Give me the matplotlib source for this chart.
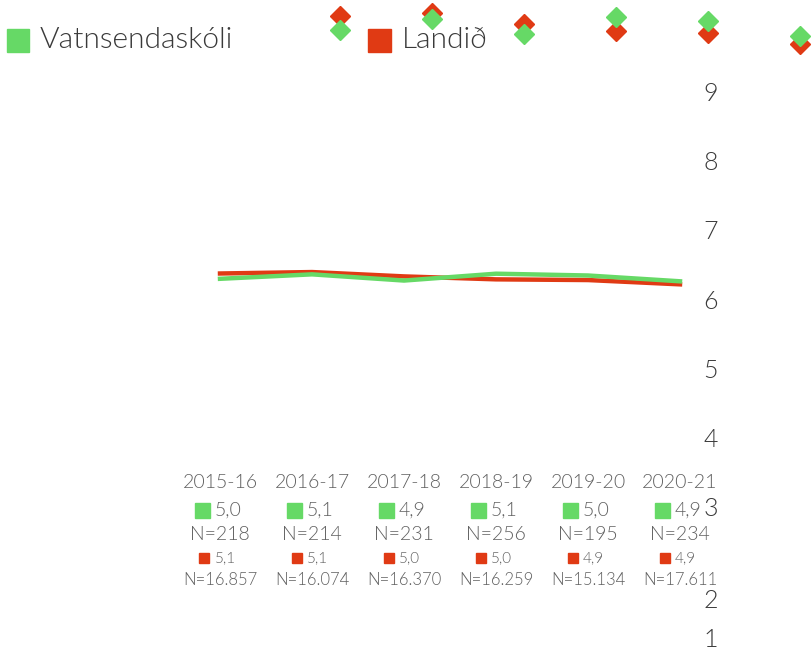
import matplotlib

matplotlib.use("Agg")
import matplotlib.pyplot as plt
from matplotlib.patches import Rectangle
from matplotlib.transforms import ScaledTranslation, blended_transform_factory, offset_copy


W, H, DPI = 812, 652, 100

YEARS = ["2015-16", "2016-17", "2017-18", "2018-19", "2019-20", "2020-21"]
SCHOOL_MEAN = [4.966, 5.055, 4.931, 5.068, 5.032, 4.916]
NATIONAL_MEAN = [5.072, 5.101, 5.014, 4.955, 4.941, 4.855]
SCHOOL_N = [218, 214, 231, 256, 195, 234]
NATIONAL_N = [16857, 16074, 16370, 16259, 15134, 17611]
SCALE_TICKS = [1, 2, 3, 4, 5, 6, 7, 8, 9]
SERIES_NAMES = ["Vatnsendaskóli", "Landið"]

GREEN = "#66d966"
RED = "#e03a14"
TEXT = "#3a3a3a"
LABEL = "#606060"
FONT = ["Lato", "DejaVu Sans"]

plt.rcParams["font.family"] = FONT
plt.rcParams["font.weight"] = 300

# the bottom two scale labels sit off the even spacing
TICK_SHIFT = {"2": -22, "1": 8}


def fmt_mean(v):
    return f"{v:.1f}".replace(".", ",")


def fmt_n(n):
    return "N=" + f"{n:,}".replace(",", ".")


def overlay(fig, x_first, x_step, ref_v, ref_py, y_scale, left=0, width=W):
    # axes whose data units land on fixed pixel positions of the canvas
    ax = fig.add_axes([left / W, 0, width / W, 1])
    ax.set_xlim((left - x_first) / x_step, (left + width - x_first) / x_step)
    ax.set_ylim(ref_v - (H - ref_py) / y_scale, ref_v + ref_py / y_scale)
    ax.patch.set_alpha(0)
    for spine in ax.spines.values():
        spine.set_visible(False)
    return ax


def main():
    fig = plt.figure(figsize=(W / DPI, H / DPI), dpi=DPI)
    xs = list(range(len(YEARS)))

    # pixel overlay for legend and label rows
    ax_px = fig.add_axes([0, 0, 1, 1])
    ax_px.set_xlim(0, W)
    ax_px.set_ylim(H, 0)
    ax_px.axis("off")

    # trend lines
    ax_line = overlay(fig, 220, 92, 5.05, 274.6, 50)
    ax_line.axis("off")
    ax_line.plot(xs, NATIONAL_MEAN, color=RED, linewidth=3.2, zorder=2)
    ax_line.plot(xs, SCHOOL_MEAN, color=GREEN, linewidth=3.2, zorder=3)

    # diamond markers
    ax_dot = overlay(fig, 339.5, 92, 0.0, 655.5, 126)
    ax_dot.axis("off")
    ax_dot.plot(xs, NATIONAL_MEAN, linestyle="none", marker="D", markersize=10,
                color=RED, clip_on=False, zorder=2)
    ax_dot.plot(xs, SCHOOL_MEAN, linestyle="none", marker="D", markersize=10,
                color=GREEN, clip_on=False, zorder=3)

    # scale axis on the right
    ax_scale = overlay(fig, 220, 92, 9, 91.5, 69.25, left=718, width=W - 718)
    ax_scale.set_xticks([])
    ax_scale.set_yticks(SCALE_TICKS)
    ax_scale.set_yticklabels([str(t) for t in SCALE_TICKS])
    ax_scale.tick_params(axis="y", length=0, pad=0, labelsize=18, labelcolor=TEXT)
    for lbl in ax_scale.get_yticklabels():
        shift = TICK_SHIFT.get(lbl.get_text())
        if shift:
            lbl.set_transform(lbl.get_transform() + ScaledTranslation(0, shift / DPI, fig.dpi_scale_trans))

    # category label blocks
    blend = blended_transform_factory(ax_line.transData, ax_px.transData)
    sq_green = offset_copy(blend, fig=fig, x=-18, y=0, units="dots")
    sq_red = offset_copy(blend, fig=fig, x=-15.5, y=0, units="dots")
    val_tr = offset_copy(blend, fig=fig, x=-5, y=0, units="dots")
    for i, year in enumerate(YEARS):
        ax_px.text(i, 483, year, transform=blend, ha="center", va="center",
                   fontsize=14, color=LABEL)
        ax_px.plot([i], [510], marker="s", markersize=10.8, color=GREEN,
                   transform=sq_green, clip_on=False)
        ax_px.text(i, 510, fmt_mean(SCHOOL_MEAN[i]), transform=val_tr, ha="left",
                   va="center", fontsize=14, color=LABEL)
        ax_px.text(i, 535, fmt_n(SCHOOL_N[i]), transform=blend, ha="center",
                   va="center", fontsize=14, color=LABEL)
        ax_px.plot([i], [558], marker="s", markersize=7.9, color=RED,
                   transform=sq_red, clip_on=False)
        ax_px.text(i, 558, fmt_mean(NATIONAL_MEAN[i]), transform=val_tr, ha="left",
                   va="center", fontsize=11, color=LABEL)
        ax_px.text(i, 580, fmt_n(NATIONAL_N[i]), transform=blend, ha="center",
                   va="center", fontsize=12, color=LABEL)

    # legend
    ax_px.add_patch(Rectangle((7, 29), 22, 23, color=GREEN))
    ax_px.text(40, 40, SERIES_NAMES[0], ha="left", va="center", fontsize=21.5, color=TEXT)
    ax_px.add_patch(Rectangle((368, 29), 23, 23, color=RED))
    ax_px.text(402, 40, SERIES_NAMES[1], ha="left", va="center", fontsize=21.5, color=TEXT)

    fig.savefig("out.png", dpi=DPI, facecolor="white")
    plt.close(fig)
    return 0


if __name__ == "__main__":
    raise SystemExit(main())
